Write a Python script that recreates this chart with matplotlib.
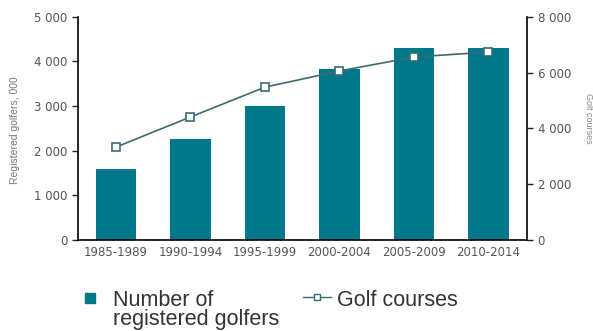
import matplotlib
matplotlib.use("Agg")
import matplotlib.pyplot as plt
from matplotlib.lines import Line2D
from matplotlib.ticker import FuncFormatter

periods = ["1985-1989", "1990-1994", "1995-1999", "2000-2004", "2005-2009", "2010-2014"]
golfers = [1580, 2270, 3000, 3830, 4310, 4310]
courses = [3330, 4410, 5480, 6060, 6560, 6740]

bar_col = "#00788a"
line_col = "#3b6b72"
grey = "#555555"

plt.rcParams['font.family'] = ["Liberation Sans", "DejaVu Sans"]

fig = plt.figure(figsize=(5.93, 3.31), dpi=100)
ax = fig.add_axes([0.1315, 0.275, 0.7575, 0.674])
ax2 = ax.twinx()

x = range(len(periods))
ax.bar(x, golfers, width=0.54, color=bar_col, zorder=2)
ax2.plot(x, courses, color=line_col, lw=1.2, marker="s", ms=6,
         mfc="white", mec=line_col, mew=1.2, zorder=3)

ax.set_xlim(-0.51, 5.52)
ax.set_ylim(0, 5000)
ax2.set_ylim(0, 8000)
ax.set_yticks(range(0, 5001, 1000))
ax2.set_yticks(range(0, 8001, 2000))
fmt = FuncFormatter(lambda v, p: f"{int(v):,}".replace(",", " "))
ax.yaxis.set_major_formatter(fmt)
ax2.yaxis.set_major_formatter(fmt)
ax.set_xticks(list(x))
ax.set_xticklabels(periods)

for a in (ax, ax2):
    a.spines["top"].set_visible(False)
    a.tick_params(colors="#222222", labelcolor=grey, labelsize=8.5, length=4, width=1)
    for lab in a.get_yticklabels() + a.get_xticklabels():
        lab.set_family("DejaVu Sans")
ax.tick_params(axis="x", length=0, pad=4)
ax2.spines["left"].set_visible(False)
ax2.spines["bottom"].set_visible(False)
ax.spines["right"].set_visible(False)
for s in ("left", "bottom"):
    ax.spines[s].set_linewidth(1.2)
ax2.spines["right"].set_linewidth(1.2)
ax2.patch.set_visible(False)

fig.text(0.026, 0.607, "Registered golfers, 000", rotation=90, ha="center", va="center",
         fontsize=7.5, color="#777777")
fig.text(0.992, 0.644, "Golf courses", rotation=270, ha="center", va="center",
         fontsize=6.5, color="#888888")

# legend drawn by hand so the handles line up with the first text line
fig.add_artist(Line2D([0.1518], [0.1], transform=fig.transFigure, ls="none",
                      marker="s", ms=7.5, mfc=bar_col, mec=bar_col))
fig.text(0.1906, 0.018, "Number of\nregistered golfers", ha="left", va="baseline",
         fontsize=15.5, color="#333333", linespacing=0.85)
fig.add_artist(Line2D([0.511, 0.559], [0.1027, 0.1027], transform=fig.transFigure,
                      color=line_col, lw=1.0))
fig.add_artist(Line2D([0.535], [0.1027], transform=fig.transFigure, ls="none",
                      marker="s", ms=4, mfc="white", mec=line_col, mew=1.0))
fig.text(0.568, 0.0755, "Golf courses", ha="left", va="baseline",
         fontsize=15.5, color="#333333")

fig.savefig("out.png", dpi=100)
